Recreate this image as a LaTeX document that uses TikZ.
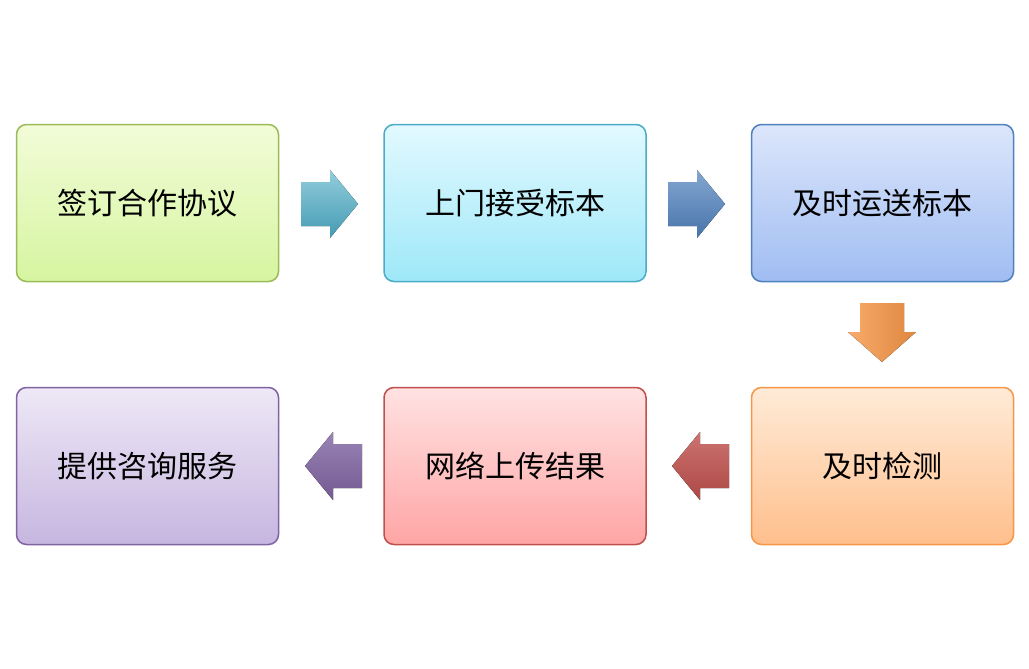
\documentclass[tikz,border=0pt]{standalone}
\usepackage{fontspec}
\newfontfamily\cjk{Noto Sans CJK SC}
\begin{document}
\begin{tikzpicture}[x=1pt,y=-1pt,
box/.style={rounded corners=10pt,line width=1.5pt,minimum width=262pt,minimum height=157pt,font=\cjk\fontsize{30}{34}\selectfont,inner sep=0pt},
ar/.style={draw=none}]
\useasboundingbox (0,0) rectangle (1029,669);
\definecolor{g1}{HTML}{F2FCD8}\definecolor{g2}{HTML}{D6F5A0}\definecolor{gb}{HTML}{9BBB59}
\definecolor{c1}{HTML}{E2F9FF}\definecolor{c2}{HTML}{9EE8F8}\definecolor{cb}{HTML}{4BACC6}
\definecolor{b1}{HTML}{DCE6FB}\definecolor{b2}{HTML}{A0BDF2}\definecolor{bb}{HTML}{4F81BD}
\definecolor{o1}{HTML}{FFEBD8}\definecolor{o2}{HTML}{FFBF8C}\definecolor{ob}{HTML}{F79646}
\definecolor{r1}{HTML}{FFE2E2}\definecolor{r2}{HTML}{FFA5A5}\definecolor{rb}{HTML}{C0504D}
\definecolor{p1}{HTML}{EEE8F6}\definecolor{p2}{HTML}{C6B6E0}\definecolor{pb}{HTML}{8064A2}
\node[box,draw=gb,top color=g1,bottom color=g2] (n1) at (147.5,203) {签订合作协议};
\node[box,draw=cb,top color=c1,bottom color=c2] (n2) at (515,203) {上门接受标本};
\node[box,draw=bb,top color=b1,bottom color=b2] (n3) at (882.5,203) {及时运送标本};
\node[box,draw=ob,top color=o1,bottom color=o2] (n4) at (882.5,466) {及时检测};
\node[box,draw=rb,top color=r1,bottom color=r2] (n5) at (515,466) {网络上传结果};
\node[box,draw=pb,top color=p1,bottom color=p2] (n6) at (147.5,466) {提供咨询服务};
% right arrows
\fill[top color=cb!60,bottom color=cb!90!black] (301,182) -- (330,182) -- (330,170) -- (358,204) -- (330,238) -- (330,226) -- (301,226) -- cycle;
\fill[top color=bb!70,bottom color=bb!90!black] (668,182) -- (697,182) -- (697,170) -- (725,204) -- (697,238) -- (697,226) -- (668,226) -- cycle;
% down arrow
\fill[left color=ob!80,right color=ob!90!black] (860,303) -- (904,303) -- (904,332) -- (916,332) -- (882,362) -- (848,332) -- (860,332) -- cycle;
% left arrows
\fill[top color=rb!80,bottom color=rb!90!black] (729,444) -- (700,444) -- (700,432) -- (672,466) -- (700,500) -- (700,488) -- (729,488) -- cycle;
\fill[top color=pb!80,bottom color=pb!90!black] (362,444) -- (333,444) -- (333,432) -- (305,466) -- (333,500) -- (333,488) -- (362,488) -- cycle;
\end{tikzpicture}
\end{document}
